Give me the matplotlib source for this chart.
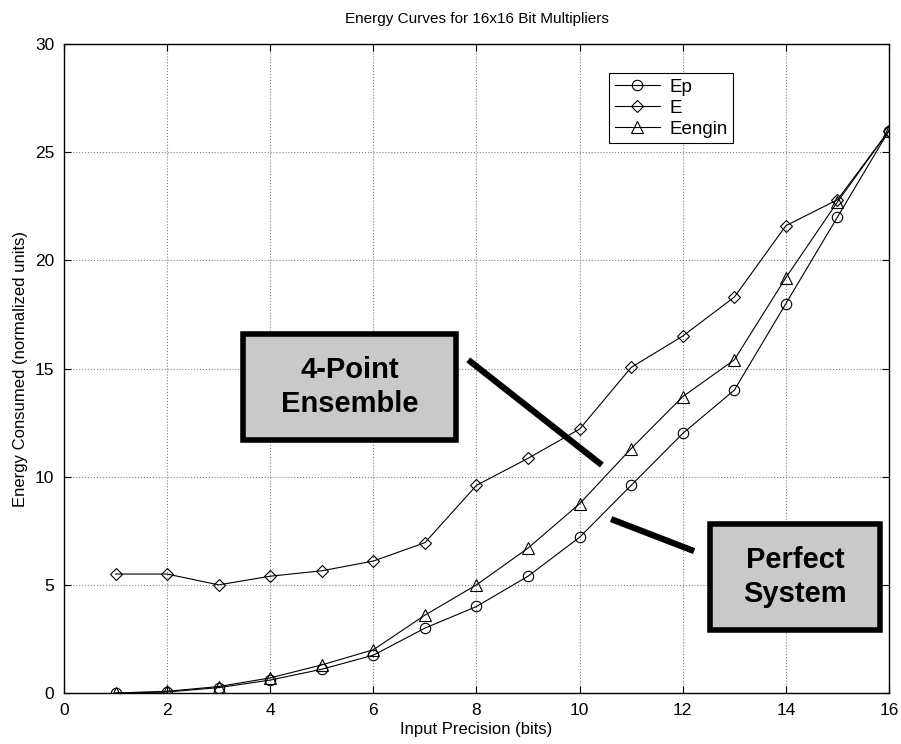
import matplotlib
matplotlib.use("Agg")
import matplotlib.pyplot as plt
from matplotlib.patches import Rectangle

plt.rcParams["font.family"] = ["Liberation Sans", "DejaVu Sans"]

bits = [1, 2, 3, 4, 5, 6, 7, 8, 9, 10, 11, 12, 13, 14, 15, 16]
ep = [0.0, 0.05, 0.25, 0.6, 1.1, 1.75, 3.0, 4.0, 5.4, 7.2, 9.6, 12.0, 14.0, 18.0, 22.0, 26.0]
e = [5.5, 5.5, 5.0, 5.4, 5.65, 6.1, 6.95, 9.6, 10.85, 12.2, 15.05, 16.5, 18.3, 21.6, 22.8, 26.0]
eengin = [0.0, 0.08, 0.3, 0.7, 1.3, 2.0, 3.6, 5.0, 6.7, 8.75, 11.3, 13.7, 15.4, 19.2, 22.7, 26.0]

fig = plt.figure(figsize=(9.01, 7.44), dpi=100)
ax = fig.add_axes([0.071, 0.0685, 0.9157, 0.8724])

style = dict(color="black", linewidth=0.8, markerfacecolor="none",
             markeredgecolor="black", markeredgewidth=0.8)
ax.plot(bits, ep, marker="o", markersize=7.5, label="Ep", **style)
ax.plot(bits, e, marker="D", markersize=6.5, label="E", **style)
ax.plot(bits, eengin, marker="^", markersize=8, label="Eengin", **style)

ax.set_xlim(0, 16)
ax.set_ylim(0, 30)
ax.set_xticks(range(0, 17, 2))
ax.set_yticks(range(0, 31, 5))
ax.tick_params(direction="in", labelsize=12.5, length=5, pad=7, top=True, right=True,
               labeltop=False, labelright=False)
ax.grid(True, linestyle=":", color="gray", linewidth=0.8)
for s in ax.spines.values():
    s.set_linewidth(1.0)

ax.set_title("Energy Curves for 16x16 Bit Multipliers", fontsize=11, pad=15)
ax.set_xlabel("Input Precision (bits)", fontsize=12, labelpad=3)
ax.set_ylabel("Energy Consumed (normalized units)", fontsize=12, labelpad=5)

leg = ax.legend(loc="upper left", bbox_to_anchor=(0.661, 0.955), borderaxespad=0,
                fontsize=13.5, fancybox=False, framealpha=1, edgecolor="black",
                handlelength=2.4, borderpad=0.3, labelspacing=0.2,
                handletextpad=0.5)
leg.get_frame().set_linewidth(0.8)

# callout boxes
boxes = [((3.47, 11.7), 4.13, 4.9, "4-Point\nEnsemble"),
         ((12.53, 2.91), 3.3, 4.9, "Perfect\nSystem")]
for (x0, y0), w, h, label in boxes:
    ax.add_patch(Rectangle((x0, y0), w, h, facecolor="#c9c9c9", edgecolor="black",
                           linewidth=4, zorder=5))
    ax.text(x0 + w / 2, y0 + h / 2, label, ha="center", va="center",
            fontsize=21, fontweight="bold", linespacing=1.3, zorder=6)

ax.plot([7.84, 10.43], [15.4, 10.54], color="black", linewidth=4.5,
        solid_capstyle="butt", zorder=6)
ax.plot([10.61, 12.22], [8.04, 6.56], color="black", linewidth=4.5,
        solid_capstyle="butt", zorder=6)

fig.savefig("out.png", dpi=100)
